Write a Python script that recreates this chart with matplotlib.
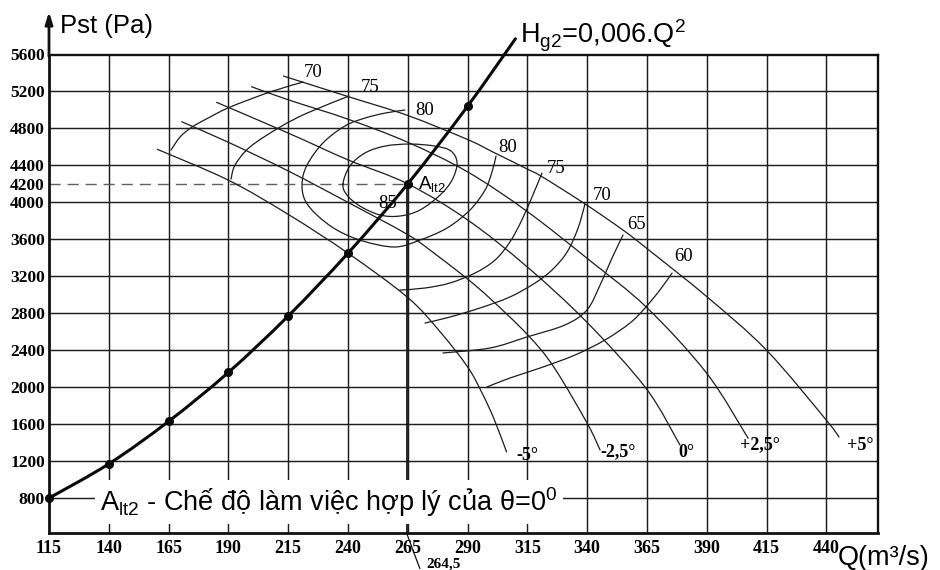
import numpy as np
import matplotlib
matplotlib.use("Agg")
import matplotlib.pyplot as plt
from matplotlib.path import Path
from matplotlib.patches import PathPatch

plt.rcParams['font.family'] = ['Liberation Sans', 'DejaVu Sans']
plt.rcParams['mathtext.default'] = 'regular'

# ---------------- data ----------------
q_ticks = [115, 140, 165, 190, 215, 240, 265, 290, 315, 340, 365, 390, 415, 440]
p_ticks = [800, 1200, 1600, 2000, 2400, 2800, 3200, 3600, 4000, 4200, 4400, 4800, 5200, 5600]
p_grid = [800, 1200, 1600, 2000, 2400, 2800, 3200, 3600, 4000, 4400, 4800, 5200]

# system curve H = 0.006 Q^2
sys_q = [115, 140, 165, 190, 215, 240, 265, 290]
sys_p = [800, 1170, 1630, 2160, 2770, 3450, 4200, 5040]
sys_ext_q = [310]
sys_ext_p = [5770]

# fan curves for blade angles
ang_labels = ['-5°', '-2,5°', '0°', '+2,5°', '+5°']
ang_q = [
    [160.3, 190, 215, 240, 265, 278.5, 290, 296, 301, 306.3],
    [170.5, 190, 215, 240, 265, 277, 290, 299.4, 315, 326, 340, 345.4],
    [185.1, 215, 240, 265, 290, 315, 340, 364.6, 378.8],
    [199.7, 215, 240, 265, 290, 315, 341, 365, 390, 407.3],
    [213, 240, 265, 290, 301, 315, 321, 339, 355, 365, 390, 415, 440, 445.3],
]
ang_p = [
    [4574, 4240, 3870, 3450, 2970, 2600, 2220, 1940, 1660, 1300],
    [4872, 4650, 4340, 4000, 3650, 3430, 3170, 2960, 2570, 2220, 1610, 1320],
    [5082, 4750, 4460, 4200, 3810, 3300, 2700, 1988, 1374],
    [5251, 5110, 4900, 4650, 4330, 3900, 3373, 2860, 2150, 1447],
    [5367, 5145, 4940, 4680, 4540, 4360, 4280, 3985, 3700, 3500, 2980, 2400, 1643, 1460],
]
ang_label_q = [314.8, 352.9, 381.3, 412.2, 454.0]
ang_label_p = [1266, 1298, 1298, 1374, 1374]

# efficiency contours
eff85_q = [237.9, 240.8, 247.1, 255.5, 265.9, 276.4, 283.1, 285.6, 283.5, 278.5, 270.1, 261.7, 253.4, 245.0, 239.6]
eff85_p = [4198, 4393, 4534, 4609, 4631, 4609, 4555, 4425, 4241, 4079, 3917, 3852, 3863, 3960, 4079]

eff80_q = [263.8, 255.5, 247.1, 238.7, 229.5, 222.9, 220.8, 222.0, 227.0, 235.4, 246.3, 259.6, 270.1, 281.4, 291.0, 297.3, 300.2, 301.9]
eff80_p = [4999, 4966, 4912, 4826, 4642, 4404, 4209, 4025, 3863, 3700, 3581, 3517, 3592, 3722, 3917, 4133, 4328, 4501]

eff70L_q = [221.2, 207.4, 190.7, 182.3, 174.8, 169.8, 166.0]
eff70L_p = [5302, 5194, 5031, 4923, 4815, 4707, 4566]
eff75L_q = [240.4, 222.9, 211.6, 199.0, 192.8, 191.1]
eff75L_p = [5150, 4966, 4815, 4599, 4404, 4252]

eff75R_q = [321.1, 317.3, 312.7, 307.7, 301.5, 293.1, 282.6, 272.2, 261.7]
eff75R_p = [4317, 4079, 3809, 3571, 3376, 3235, 3127, 3073, 3051]
eff70R_q = [339.1, 336.2, 331.6, 325.3, 318.2, 307.7, 295.2, 282.6, 272.2]
eff70R_p = [3982, 3722, 3462, 3268, 3127, 2976, 2857, 2759, 2694]
eff65R_q = [355.0, 350.4, 345.4, 339.9, 330.7, 314.8, 299.4, 279.7]
eff65R_p = [3646, 3398, 3105, 2835, 2673, 2543, 2424, 2370]
eff60R_q = [375.5, 370.4, 364.2, 357.9, 347.4, 334.9, 320.3, 307.7, 298.1]
eff60R_p = [3235, 3051, 2857, 2694, 2510, 2348, 2207, 2099, 2002]

eff_labels = ['70', '75', '80', '80', '75', '70', '65', '60', '85']
eff_label_q = [225.4, 249.2, 272.2, 306.9, 327.0, 346.2, 360.8, 380.1, 256.7]
eff_label_p = [5410, 5248, 4999, 4599, 4371, 4079, 3765, 3419, 3993]

opt_q = 264.5
opt_p = 4200


def smooth_path(xs, ys, closed=False):
    pts = np.column_stack([xs, ys]).astype(float)
    n = len(pts)
    if closed:
        P = np.vstack([pts[-1], pts, pts[0], pts[1]])
        segs = n
    else:
        P = np.vstack([pts[0], pts, pts[-1]])
        segs = n - 1
    verts = [P[1]]
    codes = [Path.MOVETO]
    for i in range(1, segs + 1):
        p0, p1, p2, p3 = P[i - 1], P[i], P[i + 1], P[i + 2]
        c1 = p1 + (p2 - p0) / 6.0
        c2 = p2 - (p3 - p1) / 6.0
        verts += [c1, c2, p2]
        codes += [Path.CURVE4] * 3
    return Path(verts, codes)


def draw_curve(ax, xs, ys, closed=False, lw=0.9, color='#1c1c1c', clip=True, z=3):
    patch = PathPatch(smooth_path(xs, ys, closed), fill=False, lw=lw,
                      edgecolor=color, zorder=z, capstyle='round', joinstyle='round')
    patch.set_clip_on(clip)
    ax.add_patch(patch)


# ---------------- figure ----------------
fig = plt.figure(figsize=(9.4, 5.7), dpi=100)
ax = fig.add_axes([49 / 940, 1 - 533 / 570, 829 / 940, 478.5 / 570])
ax.set_xlim(115, 461.6)
ax.set_ylim(422, 5600)

gridc = '#1e1e1e'
for q in q_ticks[1:]:
    ax.axvline(q, color=gridc, lw=1.05, zorder=1)
for p in p_grid:
    ax.axhline(p, color=gridc, lw=1.05, zorder=1)

for side in ['left', 'bottom']:
    ax.spines[side].set_linewidth(2.0)
for side in ['top', 'right']:
    ax.spines[side].set_linewidth(1.7)
for s in ax.spines.values():
    s.set_color('#111111')

serif = 'Liberation Serif'
ax.set_xticks(q_ticks)
ax.set_xticklabels([str(v) for v in q_ticks], fontfamily=serif, fontweight='bold', fontsize=13)
ax.set_yticks(p_ticks)
ax.set_yticklabels([str(v) for v in p_ticks], fontfamily=serif, fontweight='bold', fontsize=12.5)
ax.tick_params(axis='x', length=0, pad=5)
ax.tick_params(axis='y', length=0, pad=3)

# y-axis arrow
ax.annotate('', xy=(0, 1.095), xytext=(0, 0.99), xycoords='axes fraction',
            arrowprops=dict(arrowstyle='-|>,head_length=0.7,head_width=0.22', lw=2.0, color='#111111'),
            annotation_clip=False)

# dashed 4200 line
ax.plot([115, opt_q], [opt_p, opt_p], color='#5a6070', lw=1.0, dashes=(8, 5), zorder=2)
# vertical at optimum flow
ax.plot([opt_q, opt_q], [422, opt_p], color='#111111', lw=1.25, zorder=2)
ax.plot([opt_q, 270.0], [422, 40], color='#111111', lw=0.9, clip_on=False, zorder=2)
ax.text(272.8, 18, '264,5', fontfamily=serif, fontweight='bold', fontsize=11,
        ha='left', va='bottom', clip_on=False)

# fan curves
for qs, ps in zip(ang_q, ang_p):
    draw_curve(ax, qs, ps)
for lab, q, p in zip(ang_labels, ang_label_q, ang_label_p):
    ax.text(q, p, lab, fontfamily=serif, fontweight='bold', fontsize=13, ha='center', va='center', zorder=5)

# efficiency contours
draw_curve(ax, eff85_q, eff85_p, closed=True)
for qs, ps in [(eff80_q, eff80_p), (eff70L_q, eff70L_p), (eff75L_q, eff75L_p),
               (eff75R_q, eff75R_p), (eff70R_q, eff70R_p), (eff65R_q, eff65R_p), (eff60R_q, eff60R_p)]:
    draw_curve(ax, qs, ps)
for lab, q, p in zip(eff_labels, eff_label_q, eff_label_p):
    ax.text(q, p, lab, fontfamily=serif, fontsize=13.5, ha='center', va='center', zorder=5)

# system curve
draw_curve(ax, sys_q + sys_ext_q, sys_p + sys_ext_p, lw=2.2, color='#0a0a0a', clip=False, z=6)
ax.plot(sys_q, sys_p, 'o', color='#0a0a0a', ms=5.5, clip_on=False, zorder=7)

# labels
ax.text(269.3, opt_p, r'A$_{lt2}$', fontsize=13.5, ha='left', va='center', zorder=8)
ax.text(136.3, 757, r'A$_{lt2}$ - Chế độ làm việc hợp lý của θ=0$^{0}$', fontsize=19.5,
        ha='left', va='center', zorder=4,
        bbox=dict(boxstyle='square,pad=0.2', fc='white', ec='none'))

fig.text(60 / 940, 1 - 33 / 570, 'Pst (Pa)', fontsize=18.5, ha='left', va='baseline')
fig.text(520 / 940, 1 - 44 / 570, r'H$_{g2}$=0,006.Q$^{2}$', fontsize=19.5, ha='left', va='baseline')
fig.text(838 / 940, 1 - 565 / 570, 'Q(m³/s)', fontsize=19.5, ha='left', va='baseline')

fig.savefig('out.png', dpi=100, facecolor='white')
